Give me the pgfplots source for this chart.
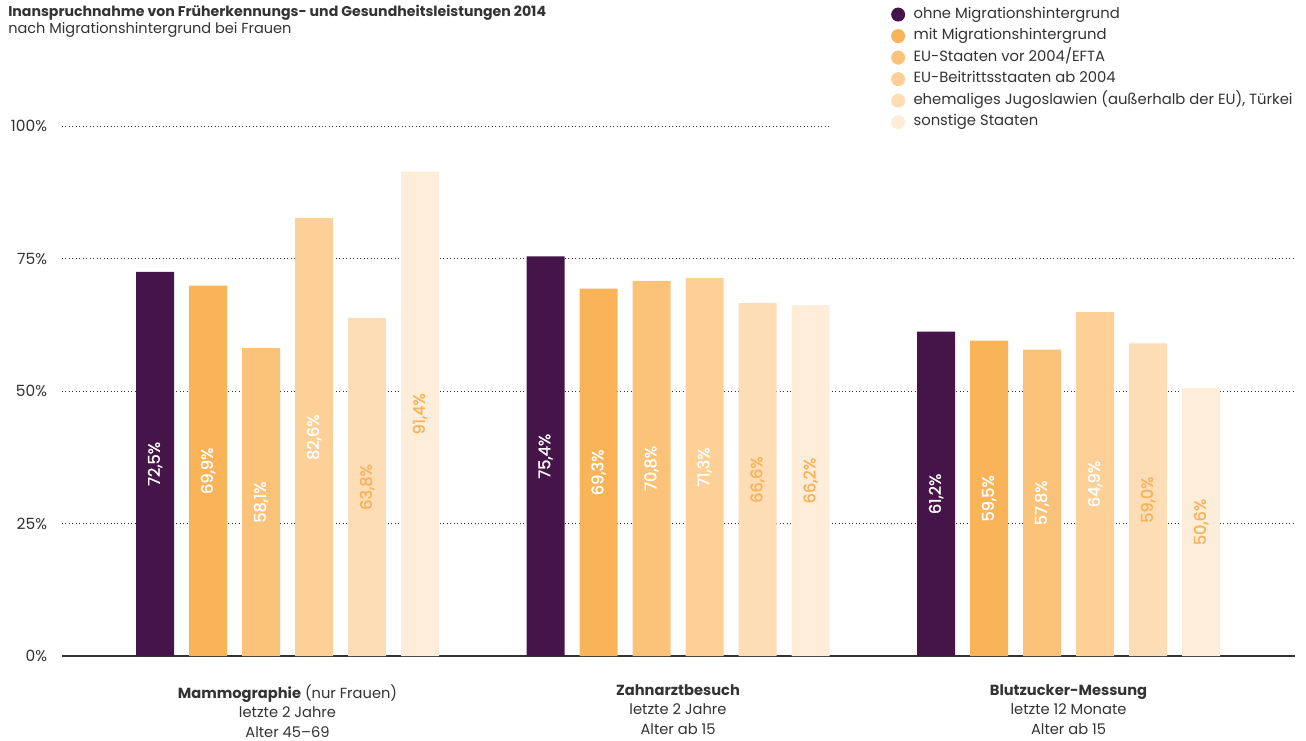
\documentclass[border=0pt]{standalone}
\usepackage{pgfplots}
\pgfplotsset{compat=1.18}
\usepackage{fontspec}
\setmainfont{Poppins}
\newfontfamily\labfont[FakeBold=1.2]{Poppins}
\definecolor{c1}{RGB}{69,20,72}
\definecolor{c2}{RGB}{249,180,90}
\definecolor{c3}{RGB}{251,194,122}
\definecolor{c4}{RGB}{252,208,151}
\definecolor{c5}{RGB}{253,221,181}
\definecolor{c6}{RGB}{254,237,216}
\definecolor{lab}{RGB}{248,178,90}
\definecolor{txt}{RGB}{51,51,51}
\begin{document}
\begin{tikzpicture}
\begin{axis}[
  scale only axis,
  width=924.75pt, height=397.5pt,
  at={(0,0)}, anchor=south west,
  xmin=-0.5775, xmax=2.58,
  ymin=0, ymax=100,
  clip=false,
  ybar=11.25pt, bar width=28.5pt,
  axis lines=left,
  y axis line style={draw=none},
  x axis line style={-, draw=txt, line width=1.1pt},
  major tick length=0pt,
  xtick={0,1,2},
  xticklabels={{\textbf{Mammographie} (nur Frauen)\\letzte 2 Jahre\\Alter 45–69},
               {\textbf{Zahnarztbesuch}\\letzte 2 Jahre\\Alter ab 15},
               {\textbf{Blutzucker-Messung}\\letzte 12 Monate\\Alter ab 15}},
  xticklabel style={align=center, anchor=north, inner sep=0pt, yshift=-21.2pt,
    font=\fontsize{11}{14.6}\selectfont, text=txt},
  ytick={0,25,50,75,100},
  yticklabels={0\%,25\%,50\%,75\%,100\%},
  yticklabel style={anchor=east, inner sep=0pt, xshift=-11pt, font=\fontsize{11.6}{13}\selectfont, text=txt},
  visualization depends on={y \as \rawy},
  nodes near coords={\pgfmathprintnumber[fixed, fixed zerofill, precision=1, use comma, assume math mode=true]{\pgfplotspointmeta}\%},
  every node near coord/.append style={yshift=-1.9875*\rawy pt, rotate=90, anchor=center, inner sep=0pt, font=\labfont\fontsize{12.2}{14}\selectfont},
  every axis plot post/.append style={legend image code/.code={\fill[##1] (0pt,0pt) circle (5.25pt);}},
  legend style={at={(0.669,1.229)}, anchor=north west, draw=none, fill=none,
    font=\fontsize{11.1}{12}\selectfont, text=txt, row sep=5.65pt, column sep=6.3pt,
    nodes={inner sep=0pt, text height=8pt, text depth=2.5pt}},
  legend cell align=left,
]
\draw[dotted, txt, line width=0.6pt] (axis cs:-0.5775,25) -- (axis cs:2.58,25);
\draw[dotted, txt, line width=0.6pt] (axis cs:-0.5775,50) -- (axis cs:2.58,50);
\draw[dotted, txt, line width=0.6pt] (axis cs:-0.5775,75) -- (axis cs:2.58,75);
\draw[dotted, txt, line width=0.6pt] (axis cs:-0.5775,100) -- (axis cs:1.389,100);
\addplot[fill=c1, draw=none, every node near coord/.append style={text=white}] coordinates {(0,72.5) (1,75.4) (2,61.2)};
\addplot[fill=c2, draw=none, every node near coord/.append style={text=white}] coordinates {(0,69.9) (1,69.3) (2,59.5)};
\addplot[fill=c3, draw=none, every node near coord/.append style={text=white}] coordinates {(0,58.1) (1,70.8) (2,57.8)};
\addplot[fill=c4, draw=none, every node near coord/.append style={text=white}] coordinates {(0,82.6) (1,71.3) (2,64.9)};
\addplot[fill=c5, draw=none, every node near coord/.append style={text=lab}] coordinates {(0,63.8) (1,66.6) (2,59.0)};
\addplot[fill=c6, draw=none, every node near coord/.append style={text=lab}] coordinates {(0,91.4) (1,66.2) (2,50.6)};
\legend{ohne Migrationshintergrund, mit Migrationshintergrund, EU-Staaten vor 2004/EFTA, EU-Beitrittsstaaten ab 2004, ehemaliges Jugoslawien (außerhalb der EU){,} Türkei, sonstige Staaten}
\end{axis}
\node[anchor=west, inner sep=0pt, text=txt, font=\fontsize{10.6}{12}\selectfont\bfseries] at (-40.5pt,482.25pt) {Inanspruchnahme von Früherkennungs- und Gesundheitsleistungen 2014};
\node[anchor=west, inner sep=0pt, text=txt, font=\fontsize{10.9}{12}\selectfont] at (-40.5pt,469.5pt) {nach Migrationshintergrund bei Frauen};
\pgfresetboundingbox
\path[use as bounding box] (-46.5pt,-63pt) rectangle (933pt,492pt);
\end{tikzpicture}
\end{document}
